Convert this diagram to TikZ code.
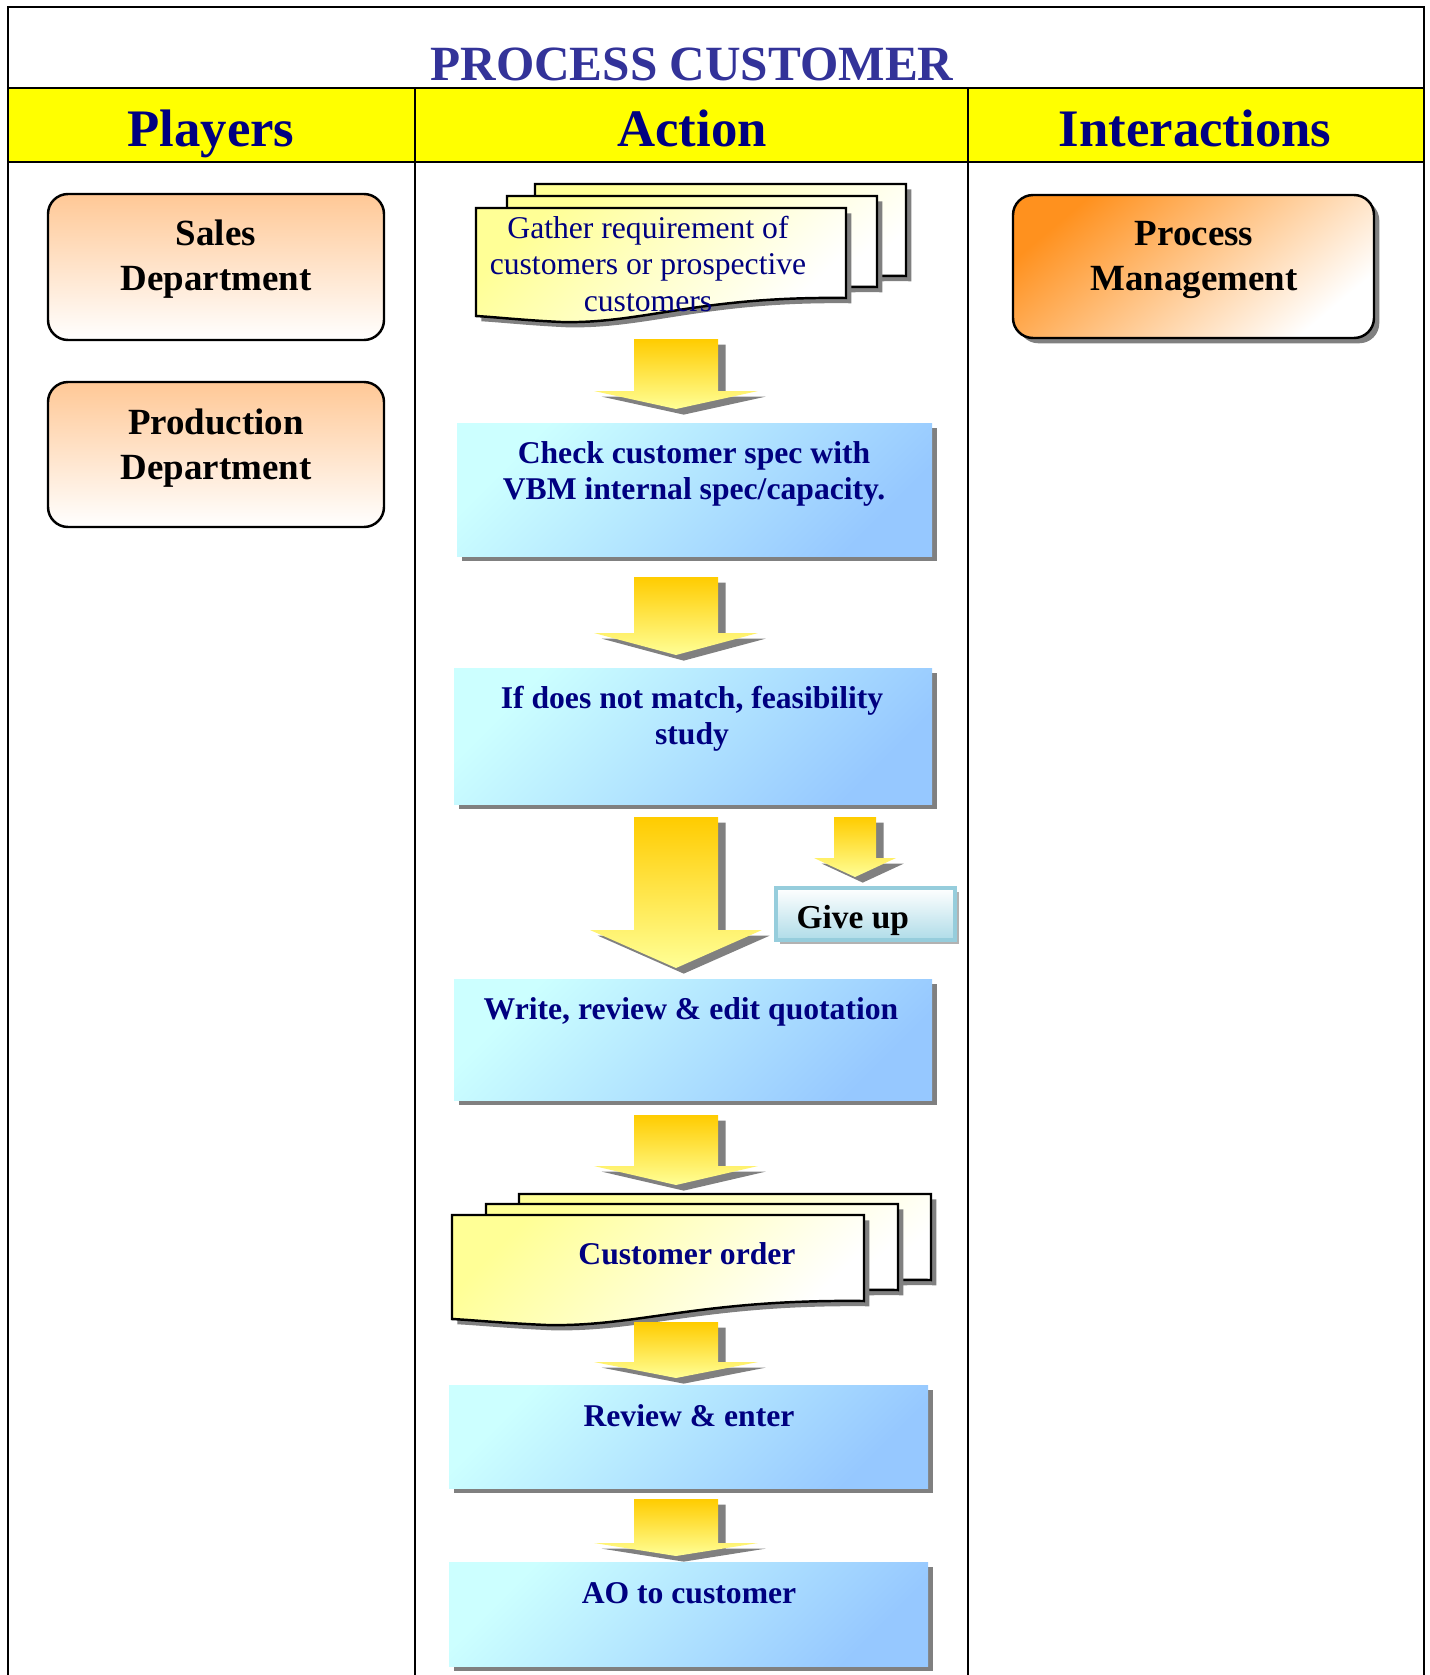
\documentclass[tikz,border=0pt]{standalone}
\usepackage{fontspec}
\setmainfont{Liberation Serif}
\usetikzlibrary{shadows}

\definecolor{headyellow}{RGB}{255,255,0}
\definecolor{navytext}{RGB}{0,0,128}
\definecolor{titleblue}{RGB}{51,51,153}
\definecolor{peach}{RGB}{255,200,150}
\definecolor{deeporange}{RGB}{255,145,30}
\definecolor{lightcyan}{RGB}{204,255,255}
\definecolor{lightblue}{RGB}{150,200,255}
\definecolor{paleyellow}{RGB}{255,255,150}
\definecolor{goldyellow}{RGB}{255,204,0}
\definecolor{giveupline}{RGB}{150,205,220}
\definecolor{giveupfill}{RGB}{175,220,232}

\tikzset{
	frame/.style={line width=0.8pt},
	header/.style={navytext, anchor=base, font=\fontsize{15}{18}\selectfont\bfseries},
	player/.style={draw, line width=0.7pt, rounded corners=0.2cm, top color=peach, bottom color=white},
	playertext/.style={align=center, font=\fontsize{10.5}{12.8}\selectfont\bfseries},
	actbox/.style={top color=lightcyan, bottom color=lightblue, shading angle=45,
		drop shadow={shadow xshift=1.5pt, shadow yshift=-1.5pt, fill=gray, opacity=1}},
	acttext/.style={navytext, align=center, font=\fontsize{9}{10.2}\selectfont\bfseries},
	docfill/.style={draw, line width=0.7pt, top color=paleyellow, bottom color=white, shading angle=45,
		drop shadow={shadow xshift=1.5pt, shadow yshift=-1.5pt, fill=gray, opacity=1}},
	arrowfill/.style={top color=goldyellow, bottom color=paleyellow,
		drop shadow={shadow xshift=2.2pt, shadow yshift=-1.6pt, fill=gray, opacity=1}},
}

% block arrow: centre x, top, end of shaft, tip, half shaft, half head
\newcommand{\fatarrow}[6]{%
	\path [arrowfill] (#1-#5,#2) -- (#1+#5,#2) -- (#1+#5,#3) -- (#1+#6,#3) -- (#1,#4)
		-- (#1-#6,#3) -- (#1-#5,#3) -- cycle;
}
% page with a wavy lower edge: left, top, width, height at the right
\newcommand{\docpage}[4]{%
	\path [docfill] (#1,#2) -- (#1+#3,#2) -- (#1+#3,#2+#4)
		.. controls (#1+0.6*#3,#2+#4-2) and (#1+0.45*#3,#2+#4+26) .. (#1+0.23*#3,#2+#4+24)
		.. controls (#1+0.12*#3,#2+#4+22) and (#1+0.05*#3,#2+#4+19) .. (#1,#2+#4+18) -- cycle;
}

\begin{document}
\begin{tikzpicture}[x=0.01cm, y=-0.01cm]
	\useasboundingbox (0,0) rectangle (1429,1675);

	% table frame
	\fill [headyellow] (8,88) rectangle (1424,162);
	\draw [frame] (8,1675) -- (8,7) -- (1424,7) -- (1424,1675);
	\draw [frame] (8,88) -- (1424,88);
	\draw [frame] (8,162) -- (1424,162);
	\draw [frame] (415,88) -- (415,1675);
	\draw [frame] (968,88) -- (968,1675);

	\node [titleblue, anchor=base, font=\fontsize{14}{17}\selectfont\bfseries] (title) at (692,80) {PROCESS CUSTOMER};
	\node [header] (players) at (211,146) {Players};
	\node [header] (action) at (692,146) {Action};
	\node [header] (interactions) at (1195,146) {Interactions};

	% players
	\path [player] (48,194) rectangle (384,340);
	\node [playertext] (sales) at (216,259) {Sales\\Department};
	\path [player] (48,382) rectangle (384,527);
	\node [playertext] (production) at (216,448) {Production\\Department};

	% interactions
	\path [player, top color=deeporange, bottom color=white, shading angle=40,
		drop shadow={shadow xshift=1.5pt, shadow yshift=-1.5pt, fill=gray, opacity=1}] (1013,195) rectangle (1374,338);
	\node [playertext] (procman) at (1194,260) {Process\\Management};

	% action flow
	\docpage{535}{184}{371}{92}
	\docpage{507}{196}{370}{91}
	\docpage{476}{208}{370}{90}
	\node [navytext, align=center, font=\fontsize{9}{10.4}\selectfont] (gather) at (648,264)
		{Gather requirement of\\customers or prospective\\customers};

	\fatarrow{676}{339}{391}{409}{42}{82}

	\path [actbox] (457,423) rectangle (932,556);
	\node [acttext] (check) at (694,474) {Check customer spec with\\VBM internal spec/capacity.};

	\fatarrow{676}{577}{633}{655}{42}{82}

	\path [actbox] (454,668) rectangle (932,804);
	\node [acttext] (match) at (692,719) {If does not match, feasibility\\study};

	\fatarrow{676}{817}{930}{968}{42}{86}
	\fatarrow{855}{817}{858}{877}{21}{41}

	\path [draw=giveupline, line width=1pt, top color=white, bottom color=giveupfill,
		drop shadow={shadow xshift=1pt, shadow yshift=-1pt, fill=gray!60, opacity=1}] (776,888) rectangle (955,940);
	\node [anchor=base west, inner sep=0pt, font=\fontsize{9.5}{11}\selectfont\bfseries] (giveup) at (796,928) {Give up};

	\path [actbox] (454,979) rectangle (932,1100);
	\node [acttext] (write) at (691,1012) {Write, review \& edit quotation};

	\fatarrow{676}{1115}{1166}{1185}{42}{82}

	\docpage{519}{1194}{412}{86}
	\docpage{486}{1204}{412}{86}
	\docpage{452}{1215}{412}{86}
	\node [acttext] (order) at (687,1254) {Customer order};

	\fatarrow{676}{1322}{1362}{1378}{42}{82}

	\path [actbox] (449,1385) rectangle (928,1488);
	\node [acttext] (review) at (689,1416) {Review \& enter};

	\fatarrow{676}{1499}{1543}{1556}{42}{82}

	\path [actbox] (449,1562) rectangle (928,1666);
	\node [acttext] (ao) at (689,1593) {AO to customer};
\end{tikzpicture}
\end{document}
